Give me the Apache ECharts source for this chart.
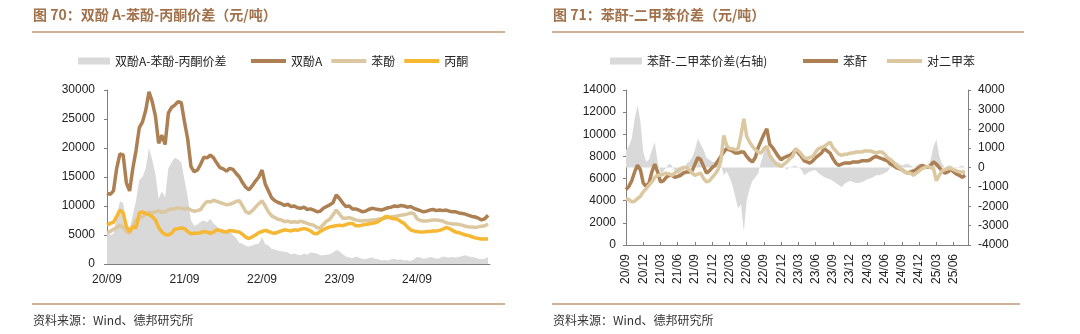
<!DOCTYPE html>
<html>
<head>
<meta charset="utf-8">
<script src="https://cdn.jsdelivr.net/npm/echarts@6/dist/echarts.min.js"></script>
<style>
html,body{margin:0;padding:0;background:#fff;}
#chart{width:1080px;height:334px;}
</style>
</head>
<body>
<div id="chart"></div>
<script>
// ---- Left chart: 双酚A-苯酚-丙酮 (semi-monthly samples from 2020-09) ----
const bpaSpread = [5500,5000,5200,8200,10800,10500,7200,5800,8500,11000,14500,15000,16500,20000,18000,15500,11200,12500,11500,16500,17500,18300,18000,17500,14500,11500,7500,6600,6800,7300,7500,7200,7800,7000,6500,6000,5900,5600,5800,5000,4500,3600,3500,3100,3000,3200,3400,3500,4600,3400,3200,2600,2500,2300,2200,2100,2000,1700,1800,1600,1500,1800,1600,2000,1900,1800,1500,1500,1600,1700,2000,2400,2200,1700,1300,1100,1000,1300,1100,900,800,1000,1100,900,800,600,700,600,800,900,700,800,600,700,500,800,1200,1100,900,1000,1200,1100,900,1000,1300,1200,1100,1200,1100,1200,1400,1500,1300,1200,1100,900,800,900,1200];
const bpa = [12200,12000,12600,16500,19000,18800,14000,12600,16500,19600,23500,24500,26500,29700,28000,25500,20800,22200,20600,26000,27000,27400,28000,27800,24500,21500,16800,15900,16200,17200,18400,18300,18800,18300,17400,16600,16400,16000,16500,16300,15600,15000,14000,13200,12800,13500,14300,15000,16200,13800,12600,11400,10900,10600,10400,10100,10300,9900,10000,9700,9600,9800,9400,9500,9300,9000,9100,9600,9900,10200,10600,11900,11300,10500,9900,10000,9500,9500,9300,9000,9100,9400,9600,9500,9400,9300,9500,9700,9800,10000,9900,10100,10000,9800,9900,9600,9400,9200,9000,9100,9300,9400,9200,9300,9200,9300,9100,9000,9000,8800,8700,8600,8400,8200,8100,7900,7600,7800,8400];
const phenol = [5400,5600,6000,6300,6700,6300,5600,5300,6500,7600,7900,8200,8600,8900,8800,9000,9200,8900,9000,9300,9500,9500,9700,9600,9500,9600,9300,9100,9200,9400,10200,10800,10700,11000,10800,10600,10400,10200,10300,10500,10800,10900,10000,9000,8700,9200,9800,10400,10900,10000,9000,8300,8000,7700,7600,7300,7400,7200,7300,7200,7400,7200,7000,6800,6700,6300,6200,6800,7400,7700,8500,9300,8600,7900,7900,8000,7800,7600,7500,7400,7500,7500,7600,7600,7700,7800,7900,8000,8100,8200,8300,8400,8500,8600,8800,8700,7800,7500,7400,7400,7500,7600,7600,7500,7400,7100,7000,6900,6900,6800,6700,6500,6400,6400,6300,6400,6500,6600,6900];
const acetone = [6700,7000,7200,8200,9300,8800,6500,5600,6500,6200,8800,9000,8700,8500,8200,7600,6300,5500,5100,5000,5300,6000,6100,6200,6100,5600,5200,5300,5300,5400,5600,5500,5300,5500,5900,5800,5600,5500,5800,5700,5600,5500,5100,4600,4400,4700,5000,5400,5600,5800,5600,5400,5300,5500,5700,5900,5800,5700,5900,5800,6000,6100,6000,5700,5300,5200,5600,5900,6200,6400,6500,6600,6700,6600,6800,7000,7000,6600,6600,6700,6800,6900,7000,7100,7300,7700,8100,8200,7900,7800,7700,7300,7000,6400,5900,5700,5600,5500,5500,5600,5600,5700,5700,5800,6000,6300,6100,5800,5500,5400,5200,5000,4900,4700,4500,4400,4300,4300,4300];

// ---- Right chart: 苯酐-二甲苯 (semi-monthly samples from 2020-09) ----
const paSpread = [900,1100,1500,2500,3200,2400,800,300,400,900,1300,300,-300,-200,0,200,100,-200,-300,-500,-300,200,300,500,900,1500,1200,900,500,400,300,300,400,200,-400,-200,-500,-900,-1500,-2100,-1900,-3300,-1700,-1100,-700,-500,-300,300,800,1200,700,400,300,300,200,0,-100,0,50,100,0,-100,-400,-300,-200,-150,-130,-300,-400,-500,-550,-600,-700,-800,-900,-1000,-850,-750,-700,-750,-800,-800,-750,-700,-600,-550,-500,-400,-400,-350,-300,-200,0,200,300,200,100,150,200,100,0,100,200,200,100,100,400,1100,1450,600,200,0,100,100,0,-50,50,100,0];
const pa = [5000,5300,5800,6600,7200,6800,5600,5300,5600,6600,7300,6600,5700,5800,6100,6300,6300,6100,6200,6300,6500,6600,6600,6700,7300,7900,7700,7100,6500,6700,7000,7200,7600,8000,8400,8700,8600,8500,8300,8300,8400,8400,8000,7700,7500,7900,8800,9400,10000,10500,9100,8800,8400,8000,7700,7900,8000,8100,8300,8600,8300,8000,7600,7500,7400,7600,7900,8100,8300,8700,8500,8300,7800,7400,7200,7300,7400,7400,7400,7500,7500,7500,7600,7600,7600,7700,7900,8000,7900,7800,7700,7600,7300,7200,7000,6900,6800,6600,6500,6600,6700,6800,7000,7200,7100,7000,7200,7500,7300,7000,6700,6500,6600,6800,6600,6400,6300,6100,6300];
const px = [4200,4100,3900,3950,4200,4400,4800,5100,5400,5700,6100,6300,6300,6400,6500,6400,6300,6500,6700,6900,7000,7000,6800,6500,6300,6400,6500,6000,5700,5800,6100,6400,6800,7600,9900,9000,8700,8700,8600,8700,9900,11400,9800,9300,8900,8600,8400,8300,8700,8900,8100,7700,7400,7200,7100,7300,7500,7800,8000,8700,8500,8200,7900,7800,7900,8000,8400,8700,8800,8900,9100,9300,8800,8500,8200,8100,8200,8200,8300,8300,8400,8400,8400,8500,8500,8500,8400,8300,8400,8400,8200,7900,7700,7500,7200,7000,6800,6600,6500,6500,6300,6500,6700,6900,7000,7100,7000,6900,5800,6300,6700,6800,6900,6900,6800,6700,6600,6600,6600];

// x = months since 2020-09 (one sample every half month)
function pairs(arr){ return arr.map((v,i)=>[i*0.5, v]); }
function ym(m){ const k = 8 + Math.round(m); const y = 20 + Math.floor(k/12); const mo = k%12 + 1; return y + '/' + (mo<10?'0'+mo:mo); }
const plain = v => String(v);

const C_GRAY='#d9d9d9', C_BPA='#ad8053', C_PHE='#dcc8a0', C_ACE='#f6b733', C_PA='#ad8053', C_PX='#dcc8a0';
const AX='#808080';
const FONT='"Liberation Sans", Arial, sans-serif';
const CJK='"Noto Sans CJK SC", sans-serif';

const chart = echarts.init(document.getElementById('chart'), null, {renderer:'canvas'});
const lineS = (name, data, color, xi, yi) => ({name, type:'line', data:pairs(data), xAxisIndex:xi, yAxisIndex:yi, symbol:'none', lineStyle:{width:3.5, color}, itemStyle:{color}, animation:false});
const areaS = (name, data, xi, yi) => ({name, type:'line', data:pairs(data), xAxisIndex:xi, yAxisIndex:yi, symbol:'none', lineStyle:{width:0}, itemStyle:{color:C_GRAY}, areaStyle:{color:C_GRAY, opacity:1}, animation:false, z:1});

const legText = {fontSize:12, color:'#222', fontFamily:CJK};
const lab = {color:'#222', fontSize:12, fontFamily:FONT};
chart.setOption({
  animation:false,
  textStyle:{fontFamily:FONT},
  grid:[
    {left:107, top:90, width:383, height:174},
    {left:626, top:90, width:342, height:155}
  ],
  legend:[
    {left:73, top:50, itemWidth:32, itemHeight:7, icon:'rect', itemGap:8, textStyle:legText, data:['双酚A-苯酚-丙酮价差']},
    {left:246, top:50, itemWidth:35, itemHeight:4, icon:'rect', itemGap:9, textStyle:legText, data:['双酚A','苯酚','丙酮']},
    {left:605, top:50, itemWidth:32, itemHeight:7, icon:'rect', itemGap:8, textStyle:legText, data:['苯酐-二甲苯价差(右轴)']},
    {left:798, top:50, itemWidth:35, itemHeight:4, icon:'rect', itemGap:20, textStyle:legText, data:['苯酐','对二甲苯']}
  ],
  xAxis:[
    {gridIndex:0, type:'value', min:0, max:59.3, interval:12, splitLine:{show:false},
     axisLine:{lineStyle:{color:AX}}, axisTick:{inside:true, length:3, lineStyle:{color:AX}},
     axisLabel:Object.assign({margin:10, showMaxLabel:false, formatter:ym}, lab)},
    {gridIndex:1, type:'value', min:0, max:59.5, interval:3, splitLine:{show:false},
     axisLine:{lineStyle:{color:AX}}, axisTick:{inside:true, length:3, lineStyle:{color:AX}},
     axisLabel:Object.assign({margin:9, rotate:90, showMaxLabel:false, formatter:ym}, lab)}
  ],
  yAxis:[
    {gridIndex:0, type:'value', min:0, max:30000, interval:5000, splitLine:{show:false},
     axisLine:{show:true, lineStyle:{color:AX}}, axisTick:{show:true, length:3, lineStyle:{color:AX}},
     axisLabel:Object.assign({margin:12, formatter:plain}, lab)},
    {gridIndex:1, type:'value', min:0, max:14000, interval:2000, splitLine:{show:false},
     axisLine:{show:true, lineStyle:{color:AX}}, axisTick:{show:true, length:3, lineStyle:{color:AX}},
     axisLabel:Object.assign({margin:10, formatter:plain}, lab)},
    {gridIndex:1, type:'value', position:'right', min:-4000, max:4000, interval:1000, splitLine:{show:false},
     axisLine:{show:true, lineStyle:{color:AX}}, axisTick:{show:true, length:3, lineStyle:{color:AX}},
     axisLabel:Object.assign({margin:10, formatter:plain}, lab)}
  ],
  series:[
    areaS('双酚A-苯酚-丙酮价差', bpaSpread, 0, 0),
    lineS('双酚A', bpa, C_BPA, 0, 0),
    lineS('苯酚', phenol, C_PHE, 0, 0),
    lineS('丙酮', acetone, C_ACE, 0, 0),
    areaS('苯酐-二甲苯价差(右轴)', paSpread, 1, 2),
    lineS('苯酐', pa, C_PA, 1, 1),
    lineS('对二甲苯', px, C_PX, 1, 1)
  ],
  graphic:[
    {type:'text', left:33, top:8, style:{text:'图 70：双酚 A-苯酚-丙酮价差（元/吨）', font:'bold 14px "Noto Sans CJK SC", sans-serif', fill:'#a0714a'}},
    {type:'text', left:553, top:8, style:{text:'图 71：苯酐-二甲苯价差（元/吨）', font:'bold 14px "Noto Sans CJK SC", sans-serif', fill:'#a0714a'}},
    {type:'line', shape:{x1:32, y1:32, x2:505, y2:32}, style:{stroke:'#bf9878', lineWidth:1.5}},
    {type:'line', shape:{x1:552, y1:32, x2:1024, y2:32}, style:{stroke:'#bf9878', lineWidth:1.5}},
    {type:'line', shape:{x1:32, y1:304, x2:505, y2:304}, style:{stroke:'#bf9878', lineWidth:1.5}},
    {type:'line', shape:{x1:552, y1:304, x2:1020, y2:304}, style:{stroke:'#bf9878', lineWidth:1.5}},
    {type:'text', left:33, top:314, style:{text:'资料来源：Wind、德邦研究所', font:'12px "Noto Sans CJK SC", sans-serif', fill:'#333'}},
    {type:'text', left:553, top:314, style:{text:'资料来源：Wind、德邦研究所', font:'12px "Noto Sans CJK SC", sans-serif', fill:'#333'}}
  ]
});
</script>
</body>
</html>
